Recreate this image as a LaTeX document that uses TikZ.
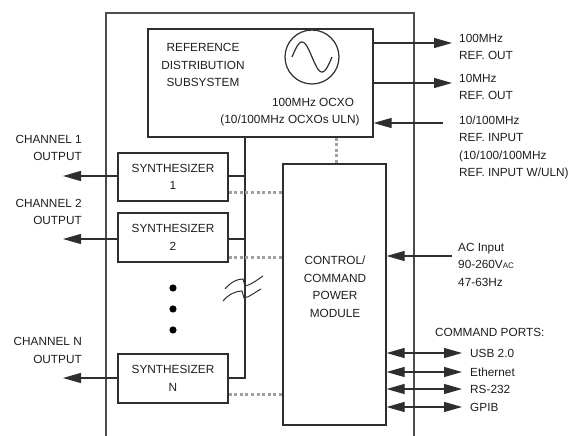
\documentclass[tikz,border=0pt]{standalone}
\usepackage{fontspec}
\setmainfont{Liberation Sans}
\usetikzlibrary{arrows.meta}
\definecolor{ln}{HTML}{2E2E2E}
\definecolor{tx}{HTML}{1E1E1E}
\definecolor{dots}{HTML}{A0A0A0}
\begin{document}
\begin{tikzpicture}[x=1pt,y=-1pt,
  every node/.style={inner sep=0pt,text=tx,font=\fontsize{11.8}{17.5}\selectfont},
  boxnode/.style={draw=ln,line width=1.2pt,minimum width=#1},
  lbl/.style={align=center},
  lblr/.style={align=right,anchor=east},
  lbll/.style={align=left,anchor=west},
  wire/.style={draw=ln,line width=1.2pt},
  arr/.style={wire,-{Triangle[length=18pt,width=10pt]}},
  darr/.style={wire,{Triangle[length=18pt,width=10pt]}-{Triangle[length=18pt,width=10pt]}},
  dotline/.style={draw=dots,line width=3pt,dash pattern=on 3pt off 2.6pt}]
\useasboundingbox (0,0) rectangle (571,436);
% outer chassis
\draw[draw=ln!85,line width=1.3pt] (106,437) -- (106,13) -- (414,13) -- (414,437);
% reference distribution subsystem
\node[boxnode=225pt,minimum height=108pt] (ref) at (260.5,83) {};
\node[lbl] (reftxt) at (203,65) {REFERENCE\\DISTRIBUTION\\SUBSYSTEM};
\node[draw=ln,line width=1.2pt,circle,minimum size=54pt] (osc) at (312,57) {};
\draw[ln,line width=1.2pt] plot[domain=-20:20,samples=60,smooth] ({312+\x},{57+15*sin(9*\x)});
\node (ocxo) at (313,102) {100MHz OCXO};
\node (ocxouln) at (290,120) {(10/100MHz OCXOs ULN)};
% synthesizers
\node[boxnode=110pt,minimum height=48pt,lbl] (s1) at (173,177) {SYNTHESIZER\\1};
\node[boxnode=110pt,minimum height=49pt,lbl] (s2) at (173,237.5) {SYNTHESIZER\\2};
\node[boxnode=110pt,minimum height=49pt,lbl] (sN) at (173,378.5) {SYNTHESIZER\\N};
\foreach \yy [count=\i] in {288,309,330} \fill[black] (173,\yy) circle (3.6pt) coordinate (dot\i);
% control / command power module
\node[boxnode=103pt,minimum height=261pt] (ctrl) at (334.5,294.5) {};
\node[lbl] (ctrltxt) at (335,287) {CONTROL/\\COMMAND\\POWER\\MODULE};
% reference bus
\coordinate (busTop) at (245,137);
\coordinate (busBot) at (245,378);
\draw[wire] (busTop) -- (busBot) -- (sN.east |- busBot);
\draw[wire] (s1.east) ++(0,-1) -- (busTop |- 176,176);
\draw[wire] (s2.east |- 239,239) -- (busTop |- 239,239);
% break symbol
\draw[wire,line width=1pt] (225,289) .. controls (231,282) and (237,279) .. (243,279) -- (245,286) .. controls (251,285) and (257,280) .. (263,276);
\draw[wire,line width=1pt] (223,301) .. controls (229,294) and (236,291) .. (242,291) -- (244,298) .. controls (250,297) and (255,292) .. (261,289);
% control (dotted) links
\draw[dotline] (s1.east |- 192,192) -- (ctrl.west |- 192,192);
\draw[dotline] (s2.east |- 257,257) -- (ctrl.west |- 257,257);
\draw[dotline] (sN.east |- 394,394) -- (ctrl.west |- 394,394);
\draw[dotline] (ref.south -| 336,0) -- (ctrl.north -| 336,0);
% channel outputs
\coordinate (o1) at (63,176);
\coordinate (o2) at (63,239);
\coordinate (oN) at (63,378);
\draw[arr] (s1.west |- o1) -- (o1);
\draw[arr] (s2.west |- o2) -- (o2);
\draw[arr] (sN.west |- oN) -- (oN);
\node[lblr] (c1) at (82,148) {CHANNEL 1\\OUTPUT};
\node[lblr] (c2) at (82,212) {CHANNEL 2\\OUTPUT};
\node[lblr] (cN) at (82,350.5) {CHANNEL N\\OUTPUT};
% reference in/out
\coordinate (r100) at (452,43);
\coordinate (r10) at (452,83);
\coordinate (rin) at (443,123);
\draw[arr] (ref.east |- r100) -- (r100);
\draw[arr] (ref.east |- r10) -- (r10);
\draw[arr] (rin) -- (ref.east |- rin);
\node[lbll] (t100) at (459,47) {100MHz\\REF. OUT};
\node[lbll] (t10) at (459,87) {10MHz\\REF. OUT};
\node[lbll] (tin) at (459,147.5) {10/100MHz\\REF. INPUT\\(10/100/100MHz\\REF. INPUT W/ULN)};
% AC input
\coordinate (ac) at (452,256);
\draw[arr] (ac) -- (ctrl.east |- ac);
\node[lbll] (tac) at (458,264.5) {AC Input\\90-260V{\fontsize{8}{8}\selectfont AC}\\47-63Hz};
% command ports
\node[anchor=west] (cmd) at (435,332) {COMMAND PORTS:};
\foreach \yy/\nm/\tt in {353/usb/USB 2.0,372/eth/Ethernet,389/rs/RS-232,407/gpib/GPIB}{
  \coordinate (\nm) at (462,\yy);
  \draw[darr] (ctrl.east |- \nm) -- (\nm);
  \node[anchor=west] (\nm t) at (470,\yy) {\tt};
}
\end{tikzpicture}
\end{document}
